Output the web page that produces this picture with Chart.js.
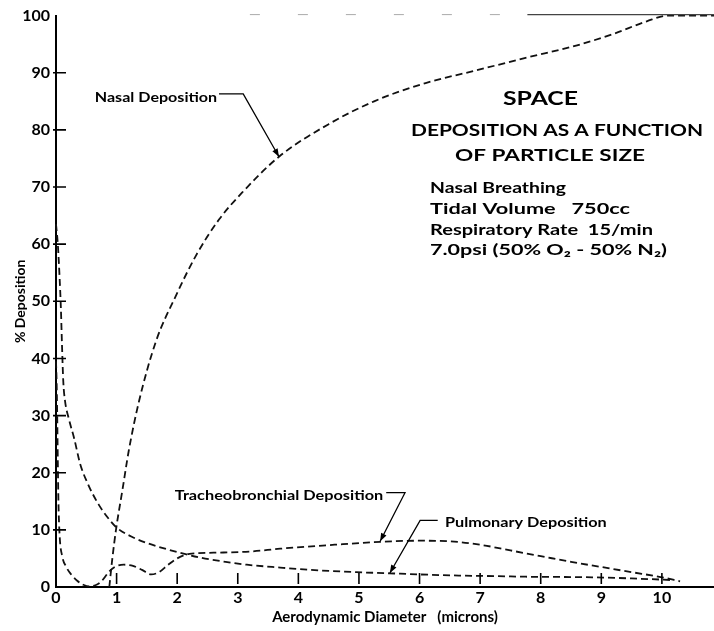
<!DOCTYPE html>
<html>
<head>
<meta charset="utf-8">
<script src="https://cdn.jsdelivr.net/npm/chart.js@4"></script>
<style>
  html, body { margin: 0; padding: 0; background: #fff; }
  #wrap { width: 714px; height: 631px; }
</style>
</head>
<body>
<div id="wrap"><canvas id="c" width="714" height="631"></canvas></div>
<script>
// ---- Data (x = aerodynamic diameter in microns, y = % deposition)
const nasalX = [0.88, 0.93, 0.99, 1.1, 1.2, 1.37, 1.65, 1.98, 2.31, 2.69, 3.07, 3.68, 4.5, 5.25, 6.1, 6.93, 7.75, 8.6, 9.2, 9.75, 10.1, 10.86];
const nasalY = [0, 5, 10, 17.2, 23.8, 32.5, 43, 51, 58, 64.3, 69, 75.3, 81, 85, 88.2, 90.4, 92.6, 94.8, 96.8, 99, 100, 100];

const tracheoX = [0, 0.01, 0.02, 0.03, 0.04, 0.06, 0.1, 0.17, 0.25, 0.35, 0.45, 0.55, 0.65, 0.75, 0.87, 0.97, 1.12, 1.27, 1.42, 1.57, 1.7, 1.85, 2.0, 2.2, 2.6, 3.2, 3.7, 4.6, 5.35, 6.0, 6.5, 7.0, 7.5, 8.0, 8.5, 9.0, 9.5, 10.0, 10.3];
const tracheoY = [39.5, 36, 30, 22, 15, 9, 5.5, 3.5, 2.2, 1.1, 0.4, 0.1, 0.3, 1.0, 2.6, 3.5, 3.9, 3.7, 3.0, 2.2, 2.6, 3.9, 5.0, 5.8, 6.0, 6.2, 6.7, 7.4, 7.9, 8.1, 8.0, 7.4, 6.4, 5.4, 4.4, 3.5, 2.6, 1.7, 1.0];

const pulmX = [0, 0.03, 0.06, 0.08, 0.1, 0.12, 0.15, 0.21, 0.3, 0.4, 0.55, 0.7, 0.85, 1.0, 1.25, 1.5, 1.8, 2.05, 2.4, 2.8, 3.15, 3.7, 4.2, 4.95, 5.5, 6.0, 6.65, 7.3, 7.75, 8.4, 8.85, 9.5, 10.2];
const pulmY = [63.5, 60, 54, 49, 42, 36, 32.5, 29.5, 26, 21.5, 17.5, 14.5, 12.2, 10.4, 8.8, 7.7, 6.7, 6.0, 5.1, 4.4, 3.9, 3.4, 3.0, 2.6, 2.4, 2.2, 2.0, 1.9, 1.8, 1.75, 1.7, 1.5, 1.2];

const xTickValues = [0, 1, 2, 3, 4, 5, 6, 7, 8, 9, 10];
const yTickValues = [0, 10, 20, 30, 40, 50, 60, 70, 80, 90, 100];

const seriesNames = ['Nasal Deposition', 'Tracheobronchial Deposition', 'Pulmonary Deposition'];
const xTitle = 'Aerodynamic Diameter   (microns)';
const yTitle = '% Deposition';

// ---- Build the chart
const FONT = 'Lato, "DejaVu Sans", sans-serif';
Chart.defaults.font.family = FONT;
Chart.defaults.color = '#000';

function pts(xs, ys) { return xs.map((x, i) => ({ x: x, y: ys[i] })); }

const lineStyle = {
  borderColor: '#111',
  borderWidth: 1.8,
  borderDash: [7, 4],
  pointRadius: 0,
  fill: false,
  cubicInterpolationMode: 'monotone',
  clip: false
};

// Text fitted to a target width
function fitText(ctx, text, left, right, cy, font) {
  ctx.save();
  ctx.font = font;
  const w = ctx.measureText(text).width;
  const sx = (right - left) / w;
  ctx.translate(left, cy);
  ctx.scale(sx, 1);
  ctx.textAlign = 'left';
  ctx.textBaseline = 'middle';
  ctx.fillStyle = '#000';
  ctx.fillText(text, 0, 0);
  ctx.restore();
}

function arrowHead(ctx, fx, fy, tx, ty) {
  const a = Math.atan2(ty - fy, tx - fx);
  const L = 8, W = 3;
  ctx.beginPath();
  ctx.moveTo(tx, ty);
  ctx.lineTo(tx - L * Math.cos(a) + W * Math.sin(a), ty - L * Math.sin(a) - W * Math.cos(a));
  ctx.lineTo(tx - L * Math.cos(a) - W * Math.sin(a), ty - L * Math.sin(a) + W * Math.cos(a));
  ctx.closePath();
  ctx.fill();
}

// Annotation labels in data units (microns, %)
const callouts = [
  { text: seriesNames[0], x0: 0.64, x1: 2.66, y: 85.7, path: [[2.69, 86.3], [3.09, 86.3], [3.68, 75.3]] },
  { text: seriesNames[1], x0: 1.96, x1: 5.40, y: 16.0, path: [[5.45, 16.5], [5.76, 16.5], [5.35, 8.0]] },
  { text: seriesNames[2], x0: 6.42, x1: 9.09, y: 11.3, path: [[6.30, 11.65], [6.01, 11.65], [5.51, 2.45]] }
];

// Title block (pixel layout of the caption)
const captionLines = [
  { text: 'SPACE', l: 503, r: 578, cy: 99, font: 'bold 19px ' + FONT },
  { text: 'DEPOSITION AS A FUNCTION', l: 411, r: 703, cy: 131, font: 'bold 17px ' + FONT },
  { text: 'OF PARTICLE SIZE', l: 455, r: 645, cy: 156, font: 'bold 17px ' + FONT },
  { text: 'Nasal Breathing', l: 430, r: 566, cy: 188, font: 'bold 16px ' + FONT },
  { text: 'Tidal Volume   750cc', l: 430, r: 630, cy: 209, font: 'bold 16px ' + FONT },
  { text: 'Respiratory Rate  15/min', l: 430, r: 653, cy: 230, font: 'bold 16px ' + FONT },
  { text: '7.0psi (50% O\u2082 - 50% N\u2082)', l: 430, r: 667, cy: 250, font: 'bold 16px ' + FONT }
];

const decor = {
  id: 'decor',
  afterDraw(chart) {
    const ctx = chart.ctx;
    const xs = chart.scales.x, ys = chart.scales.y;
    const ca = chart.chartArea;
    ctx.save();
    // inward tick marks
    ctx.strokeStyle = '#000';
    ctx.lineWidth = 1.6;
    ctx.beginPath();
    yTickValues.forEach(v => {
      if (v === 0 || v === 100) return;
      const py = ys.getPixelForValue(v);
      ctx.moveTo(ca.left - 3, py);
      ctx.lineTo(ca.left + 10, py);
    });
    xTickValues.forEach(v => {
      if (v === 0) return;
      const px = xs.getPixelForValue(v);
      ctx.moveTo(px, ca.bottom - 14);
      ctx.lineTo(px, ca.bottom - 3);
    });
    ctx.stroke();

    // top frame line (partly faded in the original)
    const ty = ys.getPixelForValue(100) - 1;
    ctx.strokeStyle = '#444';
    ctx.lineWidth = 1.3;
    ctx.beginPath();
    ctx.moveTo(xs.getPixelForValue(7.78), ty);
    ctx.lineTo(ca.right, ty);
    ctx.stroke();
    ctx.strokeStyle = '#aaa';
    ctx.lineWidth = 1;
    ctx.setLineDash([10, 38]);
    ctx.beginPath();
    ctx.moveTo(xs.getPixelForValue(3.2), ty);
    ctx.lineTo(xs.getPixelForValue(7.78), ty);
    ctx.stroke();
    ctx.setLineDash([]);

    // callouts
    ctx.strokeStyle = '#000';
    ctx.fillStyle = '#000';
    ctx.lineWidth = 1.3;
    callouts.forEach(c => {
      fitText(ctx, c.text, xs.getPixelForValue(c.x0), xs.getPixelForValue(c.x1),
              ys.getPixelForValue(c.y), 'bold 14px ' + FONT);
      const p = c.path.map(q => [xs.getPixelForValue(q[0]), ys.getPixelForValue(q[1])]);
      ctx.beginPath();
      ctx.moveTo(p[0][0], p[0][1]);
      for (let i = 1; i < p.length; i++) ctx.lineTo(p[i][0], p[i][1]);
      ctx.stroke();
      const n = p.length;
      arrowHead(ctx, p[n - 2][0], p[n - 2][1], p[n - 1][0], p[n - 1][1]);
    });

    // caption block
    captionLines.forEach(t => fitText(ctx, t.text, t.l, t.r, t.cy, t.font));
    ctx.restore();
  }
};

new Chart(document.getElementById('c'), {
  type: 'line',
  data: {
    datasets: [
      Object.assign({ label: seriesNames[0], data: pts(nasalX, nasalY) }, lineStyle),
      Object.assign({ label: seriesNames[1], data: pts(tracheoX, tracheoY) }, lineStyle),
      Object.assign({ label: seriesNames[2], data: pts(pulmX, pulmY) }, lineStyle)
    ]
  },
  options: {
    responsive: false,
    animation: false,
    layout: { padding: { top: 12, right: 0, left: 0, bottom: 0 } },
    plugins: { legend: { display: false }, tooltip: { enabled: false }, title: { display: false } },
    scales: {
      x: {
        type: 'linear',
        min: 0,
        max: 10.86,
        afterBuildTicks(s) { s.ticks = xTickValues.map(v => ({ value: v })); },
        afterFit(s) { s.height = 44; },
        ticks: { autoSkip: false, maxRotation: 0, minRotation: 0, padding: 1,
                 font: { size: 16, weight: 'bold' }, color: '#000' },
        grid: { display: true, drawOnChartArea: false, drawTicks: false },
        border: { display: true, color: '#000', width: 2 },
        title: { display: true, text: xTitle, font: { size: 15, weight: 'bold' },
                 color: '#000', padding: { top: 0, bottom: 5 } }
      },
      y: {
        type: 'linear',
        min: 0,
        max: 100,
        afterBuildTicks(s) { s.ticks = yTickValues.map(v => ({ value: v })); },
        afterFit(s) { s.width = 56; },
        ticks: { padding: 6, font: { size: 16, weight: 'bold' }, color: '#000' },
        grid: { display: true, drawOnChartArea: false, drawTicks: false },
        border: { display: true, color: '#000', width: 2 },
        title: { display: true, text: yTitle, font: { size: 14, weight: 'bold' },
                 color: '#000', padding: { top: 12, bottom: 0 } }
      }
    }
  },
  plugins: [decor]
});
</script>
</body>
</html>
